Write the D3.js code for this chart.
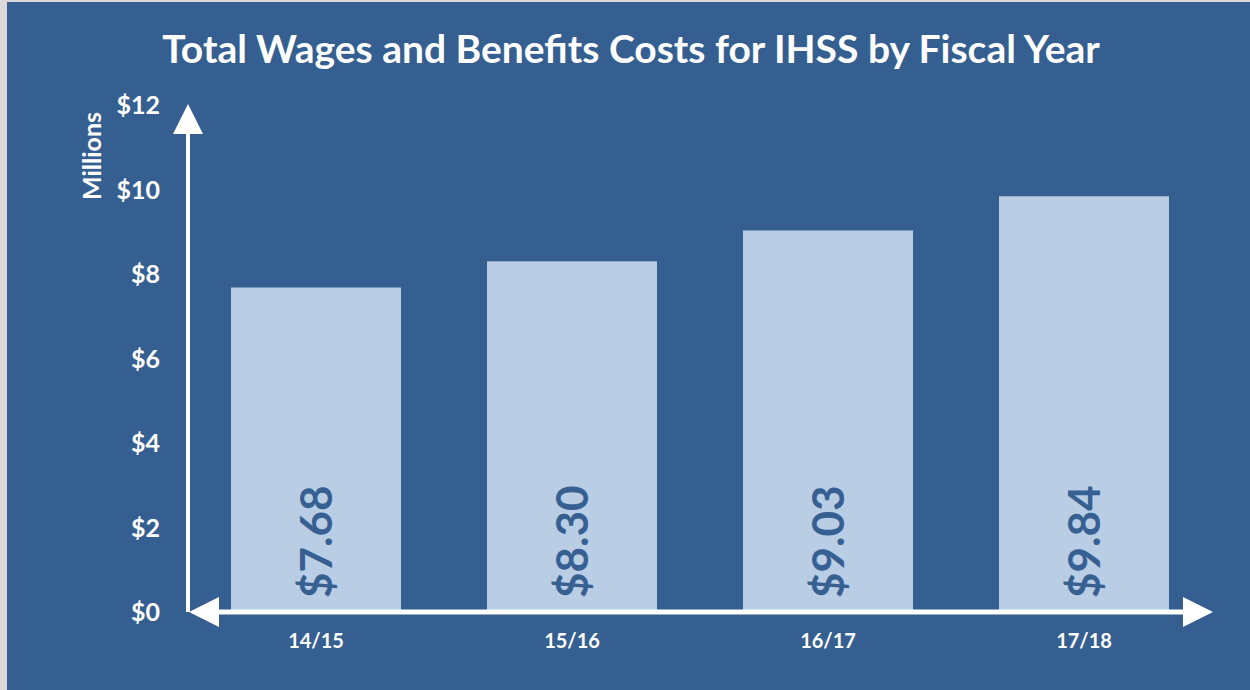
<!DOCTYPE html>
<html>
<head>
<meta charset="utf-8">
<script src="https://cdn.jsdelivr.net/npm/d3@7"></script>
<style>
  body { margin: 0; background: #d9d9d9; }
  svg { display: block; }
  text { font-family: Lato, "Open Sans", sans-serif; }
</style>
</head>
<body>
<script>
// data
var years = ["14/15", "15/16", "16/17", "17/18"];
var costs = [7.68, 8.30, 9.03, 9.84];
var yTicks = [0, 2, 4, 6, 8, 10, 12];

var W = 1250, H = 690;
var bg = "#365f91", barFill = "#b9cde5", labelFill = "#376092";

var svg = d3.select("body").append("svg")
    .attr("width", W)
    .attr("height", H);

// panel background (light grey edge on top/left like the screenshot)
svg.append("rect")
    .attr("x", 7).attr("y", 2)
    .attr("width", W - 7).attr("height", H - 2)
    .attr("fill", bg);

var x0 = 188, x1 = 1212, yZero = 612;

var x = d3.scaleBand()
    .domain(years)
    .range([x0, x1])
    .paddingInner(0.336)
    .paddingOuter(0.168);

var y = d3.scaleLinear()
    .domain([0, 12])
    .range([yZero, yZero - 12 * 42.25]);

// title
svg.append("text")
    .attr("x", 631).attr("y", 63)
    .attr("text-anchor", "middle")
    .attr("fill", "#fff")
    .style("font-size", "39px")
    .style("font-weight", "bold")
    .text("Total Wages and Benefits Costs for IHSS by Fiscal Year");

// bars
svg.append("g").selectAll("rect")
    .data(costs)
    .join("rect")
    .attr("x", function(d, i) { return x(years[i]); })
    .attr("y", function(d) { return y(d); })
    .attr("width", x.bandwidth())
    .attr("height", function(d) { return yZero - y(d); })
    .attr("fill", barFill);

// value labels, rotated inside the bars
svg.append("g").selectAll("text")
    .data(costs)
    .join("text")
    .attr("transform", function(d, i) {
        return "translate(" + (x(years[i]) + x.bandwidth() / 2 + 16) + "," + (yZero - 14) + ") rotate(-90)";
    })
    .attr("fill", labelFill)
    .style("font-size", "44px")
    .style("font-weight", "bold")
    .text(function(d) { return "$" + d.toFixed(2); });

// y axis labels
var yAxis = d3.axisLeft(y)
    .tickValues(yTicks)
    .tickFormat(function(d) { return "$" + d; })
    .tickSize(0)
    .tickPadding(28);

var gy = svg.append("g")
    .attr("transform", "translate(" + x0 + ",0)")
    .call(yAxis);
gy.select(".domain").remove();
gy.selectAll("text")
    .attr("fill", "#fff")
    .attr("dy", "0.35em")
    .style("font-size", "25px")
    .style("font-weight", "bold")
    .style("font-family", "Lato, sans-serif");

// x axis labels
var xAxis = d3.axisBottom(x).tickSize(0).tickPadding(22);
var gx = svg.append("g")
    .attr("transform", "translate(0," + yZero + ")")
    .call(xAxis);
gx.select(".domain").remove();
gx.selectAll("text")
    .attr("fill", "#fff")
    .style("font-size", "20px")
    .style("font-weight", "bold")
    .style("font-family", "Lato, sans-serif");

// axis arrows
var axes = svg.append("g").attr("fill", "#fff").attr("stroke", "#fff");
axes.append("line")
    .attr("x1", x0).attr("y1", yZero).attr("x2", x0).attr("y2", 130)
    .attr("stroke-width", 4);
axes.append("path")
    .attr("stroke", "none")
    .attr("d", "M" + x0 + ",104 L" + (x0 + 15) + ",134 L" + (x0 - 15) + ",134 Z");
axes.append("line")
    .attr("x1", x0 + 20).attr("y1", yZero).attr("x2", x1 - 26).attr("y2", yZero)
    .attr("stroke-width", 5);
axes.append("path")
    .attr("stroke", "none")
    .attr("d", "M" + (x0 + 1) + "," + yZero + " L" + (x0 + 31) + "," + (yZero - 15) + " L" + (x0 + 31) + "," + (yZero + 15) + " Z");
axes.append("path")
    .attr("stroke", "none")
    .attr("d", "M" + (x1 + 1) + "," + yZero + " L" + (x1 - 29) + "," + (yZero - 15) + " L" + (x1 - 29) + "," + (yZero + 15) + " Z");

// y axis title
svg.append("text")
    .attr("transform", "translate(101,156) rotate(-90)")
    .attr("text-anchor", "middle")
    .attr("fill", "#fff")
    .style("font-size", "25px")
    .style("font-weight", "bold")
    .text("Millions");
</script>
</body>
</html>
